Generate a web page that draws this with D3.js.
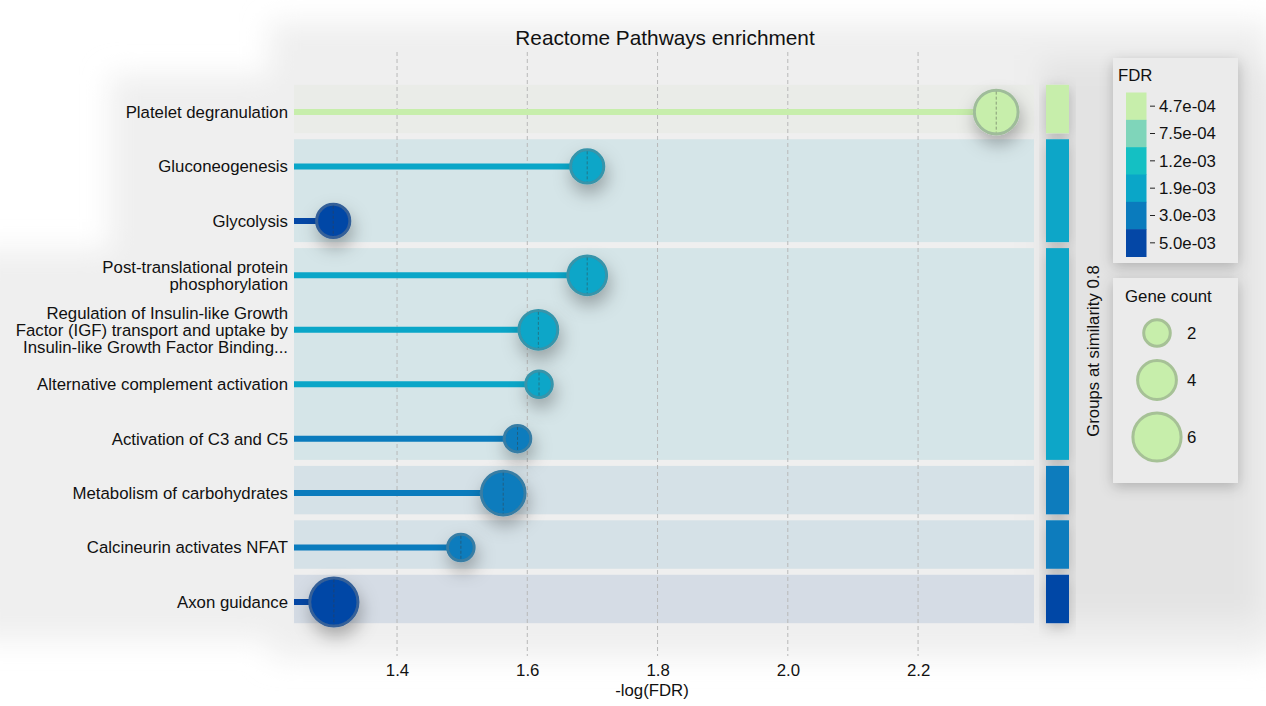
<!DOCTYPE html>
<html><head><meta charset="utf-8">
<script src="https://cdn.jsdelivr.net/npm/d3@7"></script>
<style>
body{margin:0;background:#fff;}
svg{display:block;font-family:"Liberation Sans",Arial,Helvetica,sans-serif;}
</style></head>
<body>
<svg id="chart" width="1266" height="706"></svg>
<script>
// ---- data ----
const pathways = [
  "Platelet degranulation",
  "Gluconeogenesis",
  "Glycolysis",
  "Post-translational protein phosphorylation",
  "Regulation of Insulin-like Growth Factor (IGF) transport and uptake by Insulin-like Growth Factor Binding...",
  "Alternative complement activation",
  "Activation of C3 and C5",
  "Metabolism of carbohydrates",
  "Calcineurin activates NFAT",
  "Axon guidance"
];
const labelLines = [
  ["Platelet degranulation"],
  ["Gluconeogenesis"],
  ["Glycolysis"],
  ["Post-translational protein", "phosphorylation"],
  ["Regulation of Insulin-like Growth", "Factor (IGF) transport and uptake by", "Insulin-like Growth Factor Binding..."],
  ["Alternative complement activation"],
  ["Activation of C3 and C5"],
  ["Metabolism of carbohydrates"],
  ["Calcineurin activates NFAT"],
  ["Axon guidance"]
];
const negLogFDR = [2.32, 1.692, 1.302, 1.692, 1.617, 1.618, 1.585, 1.563, 1.498, 1.303];
const fdrValues = [4.7e-4, 1.9e-3, 5.0e-3, 1.9e-3, 1.9e-3, 1.9e-3, 3.0e-3, 3.0e-3, 3.0e-3, 5.0e-3];
const geneCount = [5, 3, 3, 4, 4, 2, 2, 5, 2, 6];
const groupIds = [1, 2, 2, 3, 3, 3, 3, 4, 5, 6];

const fdrTicks = [4.7e-4, 7.5e-4, 1.2e-3, 1.9e-3, 3.0e-3, 5.0e-3];
const fdrTickLabels = ["4.7e-04", "7.5e-04", "1.2e-03", "1.9e-03", "3.0e-03", "5.0e-03"];
const fdrColors = ["#c7eeab", "#7fd5ba", "#14c0c3", "#0aa6c8", "#0a7bbd", "#0447a6"];
const xTicks = [1.4, 1.6, 1.8, 2.0, 2.2];
const sizeLegendCounts = [2, 4, 6];

// ---- scales ----
const FS = 16.8;
const svg = d3.select("#chart");
const x = d3.scaleLinear().domain([1.2418, 2.378]).range([294, 1034]);
const y = d3.scaleBand().domain(pathways).range([84.8, 629.2]).padding(0);
const color = d3.scaleOrdinal().domain(fdrTicks).range(fdrColors);
const r = d3.scaleSqrt().domain([0, 6]).range([0, 25.6]);

const rows = pathways.map((p, i) => ({p, i, lines: labelLines[i], v: negLogFDR[i], fdr: fdrValues[i], n: geneCount[i], g: groupIds[i]}));
const groups = d3.groups(rows, d => d.g).map(([g, rs]) => ({
  g, rows: rs, fdr: d3.min(rs, d => d.fdr)
}));

// ---- defs ----
const defs = svg.append("defs");
defs.append("filter").attr("id", "bgblur").attr("x", "-10%").attr("y", "-10%").attr("width", "120%").attr("height", "120%")
  .append("feGaussianBlur").attr("stdDeviation", 14);
const sh = defs.append("filter").attr("id", "shadow").attr("x", "-100%").attr("y", "-100%").attr("width", "300%").attr("height", "300%");
sh.append("feDropShadow").attr("dx", 2).attr("dy", 9).attr("stdDeviation", 9).attr("flood-color", "#000").attr("flood-opacity", 0.3);
const sh2 = defs.append("filter").attr("id", "boxshadow").attr("x", "-30%").attr("y", "-30%").attr("width", "160%").attr("height", "160%");
sh2.append("feDropShadow").attr("dx", 0).attr("dy", 4).attr("stdDeviation", 7).attr("flood-color", "#000").attr("flood-opacity", 0.22);

// ---- background ----
const bg = svg.append("g").attr("filter", "url(#bgblur)");
bg.append("rect").attr("x", 110).attr("y", 75).attr("width", 1200).attr("height", 200).attr("fill", "#efefef");
bg.append("rect").attr("x", -30).attr("y", 250).attr("width", 1330).attr("height", 390).attr("fill", "#efefef");
bg.append("rect").attr("x", 270).attr("y", 22).attr("width", 1000).attr("height", 636).attr("fill", "#efefef");
bg.append("rect").attr("x", 1040).attr("y", 60).attr("width", 220).attr("height", 560).attr("fill", "#e3e3e3");

// ---- group bands ----
const gap = 6;
function gTop(g) { return y(g.rows[0].p); }
function gH(g) { return y.bandwidth() * g.rows.length - gap; }
function tint(c, a, base) {
  const cc = d3.rgb(c), b = d3.rgb(base);
  return d3.rgb(b.r*(1-a)+cc.r*a, b.g*(1-a)+cc.g*a, b.b*(1-a)+cc.b*a).formatHex();
}
svg.append("g").selectAll("rect").data(groups).join("rect")
  .attr("x", x.range()[0]).attr("width", x.range()[1] - x.range()[0])
  .attr("y", gTop).attr("height", gH)
  .attr("fill", d => tint(color(d.fdr), d.fdr < 1e-3 ? 0.06 : 0.1, "#ececec"));

// group colour bars
svg.append("g").attr("filter", "url(#boxshadow)").selectAll("rect").data(groups).join("rect")
  .attr("x", 1046).attr("width", 23)
  .attr("y", gTop).attr("height", gH)
  .attr("fill", d => color(d.fdr));

// ---- grid ----
svg.append("g").selectAll("line").data(xTicks).join("line")
  .attr("x1", d => x(d)).attr("x2", d => x(d))
  .attr("y1", 52).attr("y2", 656)
  .attr("stroke", "#b8b8b8").attr("stroke-width", 1).attr("stroke-dasharray", "4,3");

// ---- stems ----
const cy = d => y(d.p) + y.bandwidth() / 2;
svg.append("g").selectAll("line").data(rows).join("line")
  .attr("x1", x.range()[0]).attr("x2", d => x(d.v))
  .attr("y1", cy).attr("y2", cy)
  .attr("stroke", d => color(d.fdr)).attr("stroke-width", 6);

// ---- points ----
const pts = svg.append("g").selectAll("g").data(rows).join("g");
pts.append("circle")
  .attr("cx", d => x(d.v)).attr("cy", cy).attr("r", d => r(d.n) - 1.5)
  .attr("fill", d => color(d.fdr))
  .attr("stroke", d => d3.interpolateRgb(color(d.fdr), "#6f7f86")(0.45))
  .attr("stroke-width", 3)
  .attr("filter", "url(#shadow)");
pts.append("line")
  .attr("x1", d => x(d.v)).attr("x2", d => x(d.v))
  .attr("y1", d => cy(d) - r(d.n) + 3).attr("y2", d => cy(d) + r(d.n) - 3)
  .attr("stroke", "rgba(60,60,60,0.45)").attr("stroke-width", 1).attr("stroke-dasharray", "3,2");

// ---- y labels ----
const lab = svg.append("g").attr("font-size", FS).attr("fill", "#111").attr("text-anchor", "end");
rows.forEach(d => {
  const n = d.lines.length, lh = 17;
  d.lines.forEach((t, k) => {
    lab.append("text").attr("x", 288)
      .attr("y", cy(d) + (k - (n - 1) / 2) * lh)
      .attr("dy", "0.35em").text(t);
  });
});

// ---- x axis ----
const xa = svg.append("g").attr("transform", "translate(0,667)")
  .call(d3.axisBottom(x).tickValues(xTicks).tickFormat(d3.format(".1f")).tickSize(0));
xa.select(".domain").remove();
xa.selectAll("text").attr("font-size", FS).attr("fill", "#111").attr("dy", "0.35em")
  .attr("font-family", "'Liberation Sans',Arial,sans-serif");
svg.append("text").attr("x", 652).attr("y", 690).attr("dy", "0.35em").attr("text-anchor", "middle")
  .attr("font-size", FS).attr("fill", "#111")
  .text("-log(FDR)");

// title
svg.append("text").attr("x", 665).attr("y", 38).attr("dy", "0.35em").attr("text-anchor", "middle")
  .attr("font-size", 20.8).attr("fill", "#111").text("Reactome Pathways enrichment");

// group axis title
svg.append("text").attr("transform", "translate(1093,351) rotate(-90)")
  .attr("dy", "0.35em").attr("text-anchor", "middle").attr("font-size", FS).attr("fill", "#111")
  .text("Groups at similarity 0.8");

// ---- FDR legend ----
const lg1 = svg.append("g");
lg1.append("rect").attr("x", 1113).attr("y", 58).attr("width", 125).attr("height", 205)
  .attr("fill", "#ebebeb").attr("filter", "url(#boxshadow)");
lg1.append("text").attr("x", 1118).attr("y", 75).attr("dy", "0.35em").attr("font-size", FS).attr("fill", "#111").text("FDR");
const cb = d3.scaleBand().domain(fdrTicks).range([92.5, 256.5]);
lg1.selectAll("rect.bin").data(fdrTicks).join("rect").attr("class", "bin")
  .attr("x", 1126).attr("width", 20.5).attr("y", d => cb(d)).attr("height", cb.bandwidth() + 0.5)
  .attr("fill", d => color(d));
lg1.selectAll("line.tk").data(fdrTicks).join("line").attr("class", "tk")
  .attr("x1", 1150).attr("x2", 1155).attr("y1", d => cb(d) + cb.bandwidth() / 2).attr("y2", d => cb(d) + cb.bandwidth() / 2)
  .attr("stroke", "#222").attr("stroke-width", 1);
lg1.selectAll("text.tl").data(fdrTicks).join("text").attr("class", "tl")
  .attr("x", 1159).attr("y", d => cb(d) + cb.bandwidth() / 2).attr("dy", "0.35em")
  .attr("font-size", FS).attr("fill", "#111").text((d, i) => fdrTickLabels[i]);

// ---- gene count legend ----
const lg2 = svg.append("g");
lg2.append("rect").attr("x", 1113).attr("y", 278).attr("width", 125).attr("height", 205)
  .attr("fill", "#ebebeb").attr("filter", "url(#boxshadow)");
lg2.append("text").attr("x", 1125).attr("y", 296).attr("dy", "0.35em").attr("font-size", FS).attr("fill", "#111").text("Gene count");
const ly = [333, 380, 437];
lg2.selectAll("circle").data(sizeLegendCounts).join("circle")
  .attr("cx", 1157).attr("cy", (d, i) => ly[i]).attr("r", d => r(d) - 1.5)
  .attr("fill", fdrColors[0]).attr("stroke", "#a6c196").attr("stroke-width", 3);
lg2.selectAll("text.sz").data(sizeLegendCounts).join("text").attr("class", "sz")
  .attr("x", 1187).attr("y", (d, i) => ly[i]).attr("dy", "0.35em")
  .attr("font-size", FS).attr("fill", "#111").text(d => d);
</script>
</body></html>
